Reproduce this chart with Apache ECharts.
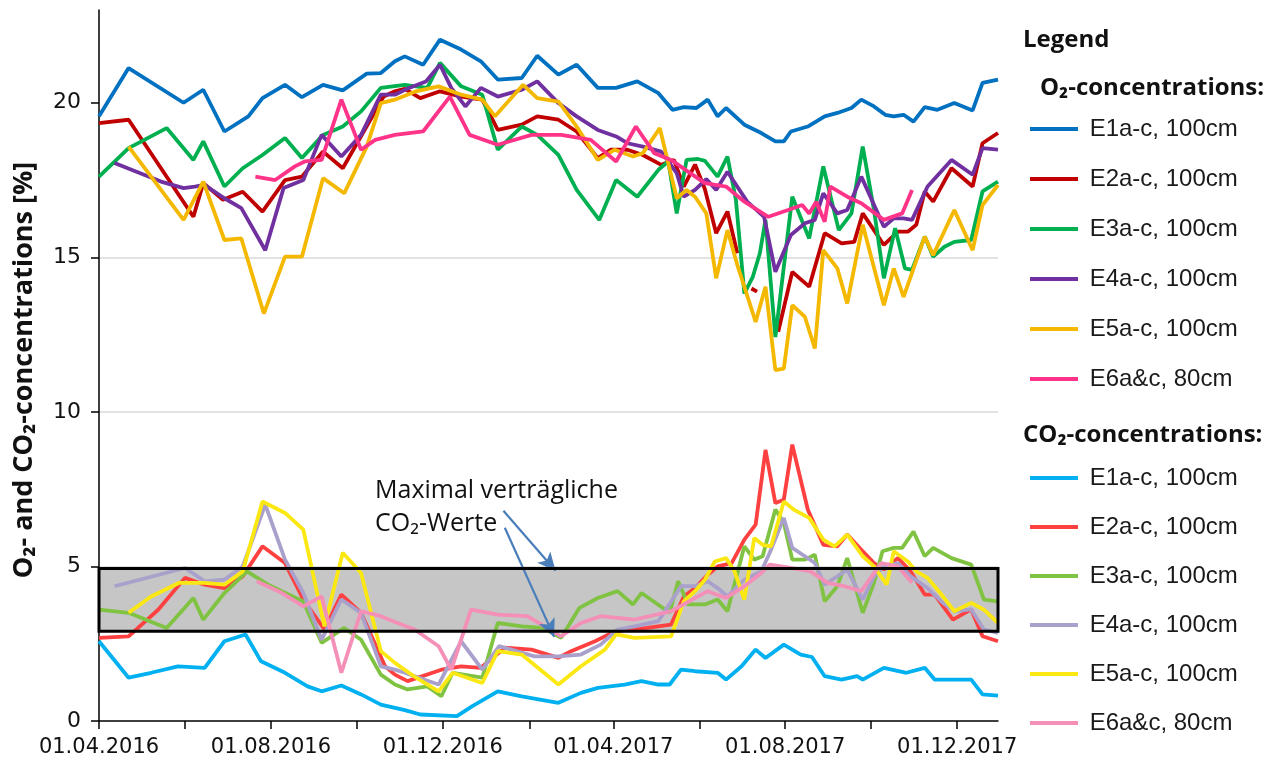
<!DOCTYPE html>
<html>
<head>
<meta charset="utf-8">
<script src="https://cdn.jsdelivr.net/npm/echarts@6/dist/echarts.min.js"></script>
<style>
  html, body { margin: 0; padding: 0; background: #fff; }
  #main { width: 1274px; height: 771px; }
</style>
</head>
<body>
<div id="main"></div>
<script>
    // x = days since 01.04.2016
    const tickDays = [0, 61, 122, 183, 244, 306, 365, 426, 487, 548, 609];
    const labelDays = [0, 122, 244, 365, 487, 609];
    const tickLabels = ['01.04.2016', '01.08.2016', '01.12.2016', '01.04.2017', '01.08.2017', '01.12.2017'];
    const yTicks = [0, 5, 10, 15, 20];

    const probeNames = ['E1a-c, 100cm', 'E2a-c, 100cm', 'E3a-c, 100cm', 'E4a-c, 100cm', 'E5a-c, 100cm', 'E6a&c, 80cm'];

    // tolerable CO2 band [%]
    const co2Band = [2.9, 4.93];

    // O2 concentrations [%]
    const o2E1 = [[0,19.56],[21,21.12],[60,20.0],[74,20.42],[89,19.07],[106,19.56],[116,20.15],[132,20.58],[144,20.18],[159,20.58],[173,20.4],[190,20.94],[200,20.96],[210,21.34],[217,21.5],[230,21.23],[242,22.04],[257,21.72],[271,21.34],[283,20.75],[300,20.8],[311,21.52],[326,20.91],[339,21.23],[354,20.48],[367,20.48],[382,20.69],[397,20.31],[407,19.77],[415,19.86],[424,19.83],[432,20.1],[439,19.56],[445,19.83],[458,19.29],[470,19.02],[480,18.75],[486,18.75],[491,19.07],[503,19.23],[515,19.56],[524,19.67],[534,19.83],[541,20.1],[550,19.88],[558,19.61],[564,19.56],[571,19.61],[578,19.39],[586,19.86],[595,19.77],[607,19.99],[620,19.75],[627,20.64],[638,20.75]];
    const o2E2 = [[0,19.34],[21,19.45],[67,16.31],[74,17.4],[88,16.86],[102,17.12],[116,16.48],[132,17.5],[144,17.61],[159,18.42],[173,17.88],[202,20.2],[210,20.37],[217,20.45],[228,20.15],[242,20.37],[257,20.2],[272,20.1],[283,19.12],[300,19.29],[311,19.56],[326,19.45],[339,19.07],[354,18.21],[363,18.48],[375,18.48],[386,18.31],[399,17.99],[408,18.15],[415,17.29],[423,18.0],[430,17.2],[438,15.78],[446,16.48],[453,15.13],[458,null],[463,13.99],[467,13.89],[475,null],[482,12.59],[492,14.53],[504,14.05],[515,15.78],[527,15.45],[536,15.5],[542,16.42],[557,15.4],[567,15.83],[574,15.83],[580,16.05],[586,17.13],[592,16.8],[605,17.88],[620,17.29],[627,18.69],[638,19.02]];
    const o2E3 = [[0,17.61],[21,18.53],[48,19.18],[67,18.15],[74,18.75],[89,17.29],[102,17.88],[116,18.31],[132,18.86],[144,18.21],[159,18.96],[173,19.23],[186,19.72],[200,20.48],[217,20.58],[233,20.48],[242,21.29],[257,20.53],[272,20.26],[283,18.48],[300,19.23],[311,18.96],[326,18.31],[339,17.18],[355,16.21],[367,17.5],[382,16.96],[397,17.83],[404,18.1],[410,16.42],[417,18.15],[425,18.18],[430,18.12],[439,17.61],[446,18.26],[452,16.86],[458,13.83],[464,14.37],[469,15.13],[473,16.21],[480,12.42],[492,16.96],[504,15.61],[514,17.94],[525,15.88],[534,16.42],[542,18.58],[550,16.53],[557,14.32],[565,15.94],[572,14.64],[577,14.59],[586,15.67],[592,15.02],[600,15.34],[607,15.5],[619,15.56],[627,17.13],[638,17.45]];
    const o2E4 = [[11,18.05],[44,17.45],[60,17.24],[68,17.29],[75,17.34],[89,16.91],[101,16.59],[118,15.23],[131,17.24],[145,17.5],[158,18.96],[172,18.26],[186,18.96],[200,20.26],[210,20.26],[220,20.48],[232,20.69],[242,21.23],[250,20.48],[260,19.88],[271,20.48],[283,20.2],[300,20.42],[311,20.69],[326,19.99],[339,19.56],[354,19.12],[367,18.91],[375,18.69],[386,18.58],[399,18.42],[410,17.72],[415,16.96],[423,17.18],[431,17.53],[438,17.18],[446,17.77],[460,16.8],[472,16.31],[480,14.53],[491,15.72],[501,16.1],[508,16.21],[514,17.07],[524,16.42],[531,16.53],[541,17.61],[557,15.99],[564,16.26],[571,16.26],[577,16.21],[588,17.29],[605,18.15],[620,17.67],[627,18.53],[638,18.48]];
    const o2E5 = [[21,18.58],[60,16.21],[74,17.45],[89,15.56],[101,15.61],[117,13.18],[132,15.02],[144,15.02],[159,17.56],[174,17.07],[190,18.58],[200,19.99],[210,20.1],[225,20.37],[241,20.53],[257,20.26],[272,20.1],[281,19.56],[301,20.58],[311,20.15],[326,20.04],[339,19.23],[354,18.15],[366,18.48],[379,18.26],[386,18.37],[398,19.18],[410,16.91],[417,17.18],[423,16.96],[431,16.42],[438,14.32],[446,15.88],[453,14.75],[466,12.91],[473,14.05],[480,11.35],[486,11.4],[492,13.45],[501,13.07],[508,12.05],[514,15.23],[524,14.64],[531,13.51],[542,16.05],[557,13.45],[564,14.64],[571,13.72],[586,15.67],[592,15.07],[607,16.53],[620,15.23],[627,16.69],[638,17.34]];
    const o2E6 = [[111,17.61],[125,17.5],[139,17.94],[146,18.1],[158,18.15],[172,20.1],[186,18.48],[196,18.8],[210,18.96],[230,19.07],[249,20.2],[263,18.96],[283,18.64],[307,18.96],[328,18.96],[349,18.8],[367,18.1],[381,19.23],[394,18.37],[406,18.15],[418,17.77],[430,17.4],[445,17.29],[458,16.8],[475,16.31],[489,16.53],[499,16.69],[504,16.42],[509,16.8],[515,16.15],[519,17.29],[531,16.96],[541,16.75],[557,16.21],[570,16.42],[577,17.18]];

    // CO2 concentrations [%]
    const co2E1 = [[0,2.58],[21,1.4],[37,1.56],[56,1.77],[75,1.72],[89,2.58],[104,2.8],[115,1.93],[132,1.56],[148,1.12],[158,0.96],[172,1.15],[186,0.86],[200,0.53],[217,0.35],[228,0.21],[254,0.16],[265,0.48],[283,0.96],[300,0.8],[326,0.59],[342,0.91],[354,1.07],[373,1.18],[385,1.29],[397,1.18],[405,1.18],[413,1.66],[423,1.61],[439,1.56],[445,1.34],[456,1.77],[466,2.31],[473,2.04],[486,2.47],[498,2.15],[506,2.07],[515,1.45],[527,1.34],[538,1.45],[542,1.34],[557,1.72],[573,1.56],[586,1.72],[593,1.34],[619,1.34],[627,0.86],[638,0.82]];
    const co2E2 = [[0,2.69],[21,2.74],[42,3.6],[61,4.63],[75,4.41],[89,4.3],[102,4.68],[116,5.65],[132,5.11],[145,3.93],[160,2.96],[172,4.09],[186,3.5],[203,1.77],[210,1.5],[219,1.29],[243,1.66],[257,1.77],[271,1.72],[288,2.37],[307,2.31],[326,2.04],[335,2.26],[352,2.58],[366,2.9],[389,3.01],[406,3.12],[415,4.03],[423,4.3],[432,4.73],[439,5.0],[449,5.11],[458,5.87],[466,6.35],[473,8.77],[480,7.05],[486,7.16],[492,8.94],[503,6.84],[514,5.7],[524,5.65],[531,6.03],[541,5.54],[550,5.11],[557,4.9],[567,5.27],[576,4.84],[586,4.09],[593,4.09],[606,3.28],[619,3.61],[627,2.74],[638,2.58]];
    const co2E3 = [[0,3.6],[21,3.5],[48,3.01],[67,3.98],[74,3.28],[89,4.14],[105,4.84],[120,4.41],[145,3.87],[158,2.53],[174,3.01],[186,2.63],[200,1.5],[210,1.18],[219,1.02],[233,1.12],[243,0.8],[251,1.56],[272,1.4],[283,3.17],[300,3.06],[315,3.01],[328,2.69],[341,3.66],[354,3.98],[368,4.2],[379,3.77],[385,4.14],[405,3.5],[411,4.52],[418,3.77],[430,3.77],[439,3.93],[446,3.55],[458,5.65],[465,5.22],[471,5.33],[480,6.84],[486,6.41],[492,5.22],[501,5.22],[508,5.38],[515,3.87],[524,4.36],[531,5.27],[542,3.5],[550,4.47],[556,5.49],[564,5.6],[570,5.6],[578,6.13],[586,5.33],[592,5.6],[605,5.27],[619,5.06],[628,3.93],[638,3.87]];
    const co2E4 = [[11,4.36],[61,4.95],[75,4.52],[89,4.57],[102,5.0],[118,7.0],[132,5.22],[145,4.14],[158,2.63],[172,3.93],[186,3.5],[200,1.77],[210,1.66],[217,1.56],[224,1.45],[241,1.18],[257,2.58],[272,1.66],[284,2.42],[309,2.09],[326,2.09],[342,2.15],[356,2.47],[368,2.96],[380,3.06],[397,3.23],[413,4.36],[423,4.36],[432,4.52],[439,4.3],[446,4.03],[458,4.57],[470,4.84],[476,5.44],[486,6.57],[492,5.6],[501,5.33],[508,5.11],[515,4.41],[524,4.68],[531,4.9],[542,3.93],[550,4.68],[557,5.0],[567,5.11],[576,4.68],[588,4.3],[599,3.82],[607,3.55],[619,3.61],[628,2.96],[638,2.85]];
    const co2E5 = [[21,3.5],[37,4.03],[57,4.47],[75,4.47],[89,4.41],[102,4.84],[116,7.1],[132,6.73],[145,6.19],[160,3.06],[173,5.44],[186,4.79],[200,2.26],[210,1.88],[225,1.4],[241,0.96],[251,1.56],[272,1.23],[283,2.26],[300,2.15],[326,1.18],[342,1.77],[359,2.31],[367,2.8],[380,2.69],[406,2.74],[415,3.87],[423,4.2],[430,4.57],[437,5.16],[445,5.27],[451,4.84],[458,3.93],[465,5.92],[471,5.7],[477,5.65],[486,7.1],[493,6.84],[504,6.57],[514,5.87],[522,5.65],[531,6.03],[542,5.33],[550,5.0],[559,4.41],[564,5.49],[574,5.16],[580,4.84],[588,4.63],[597,4.14],[607,3.55],[619,3.82],[628,3.6],[638,3.17]];
    const co2E6 = [[112,4.52],[130,4.14],[145,3.71],[158,4.03],[172,1.56],[186,3.55],[200,3.39],[210,3.2],[224,2.96],[241,2.42],[250,1.66],[264,3.6],[283,3.44],[304,3.39],[328,2.74],[342,3.17],[356,3.39],[380,3.28],[406,3.55],[420,3.9],[432,4.2],[445,3.98],[458,4.36],[470,4.79],[476,5.06],[491,4.95],[505,4.84],[517,4.47],[529,4.36],[541,4.2],[555,5.11],[567,5.0],[577,4.47]];

    const o2Colors = ['#0070c0', '#c00000', '#00b050', '#7030a0', '#f5b800', '#ff3388'];
    const co2Colors = ['#00b0f0', '#ff4040', '#80c342', '#aaa0cc', '#fbe812', '#f48fb8'];

    const o2Data = [o2E1, o2E2, o2E3, o2E4, o2E5, o2E6];
    const co2Data = [co2E1, co2E2, co2E3, co2E4, co2E5, co2E6];

    const xMax = 638;
    const txtFont = '"DejaVu Sans", Verdana, sans-serif';
    const boldFont = '"Open Sans", "Noto Sans", "DejaVu Sans", sans-serif';

    const o2Names = probeNames.map(n => 'O2|' + n);
    const co2Names = probeNames.map(n => 'CO2|' + n);

    const makeLine = (name, color, data) => ({
        name: name,
        type: 'line',
        data: data,
        color: color,
        symbol: 'none',
        showSymbol: false,
        lineStyle: { width: 3.8, color: color },
        animation: false
    });

    let series = [];
    // grey band (fill below the lines)
    series.push({
        type: 'line',
        data: [],
        silent: true,
        z: 1,
        markArea: {
            silent: true,
            itemStyle: { color: '#c6c6c6', borderWidth: 0 },
            data: [[{ xAxis: 0, yAxis: co2Band[0] }, { xAxis: xMax, yAxis: co2Band[1] }]]
        }
    });
    for (let i = 0; i < 6; i++) series.push(makeLine(o2Names[i], o2Colors[i], o2Data[i]));
    for (let i = 0; i < 6; i++) series.push(makeLine(co2Names[i], co2Colors[i], co2Data[i]));
    // black frame of the band + the two arrows
    series.push({
        type: 'line',
        data: [],
        silent: true,
        z: 10,
        markArea: {
            silent: true,
            z: 10,
            itemStyle: { color: 'rgba(0,0,0,0)', borderColor: '#000', borderWidth: 3 },
            data: [[{ xAxis: 0, yAxis: co2Band[0] }, { xAxis: xMax, yAxis: co2Band[1] }]]
        },
        markLine: {
            silent: true,
            symbol: ['none', 'arrow'],
            symbolSize: [13, 18],
            label: { show: false },
            lineStyle: { color: '#4a7ebb', width: 2.2, type: 'solid' },
            data: [
                [{ coord: [287, 6.8] }, { coord: [324, 4.86] }],
                [{ coord: [288, 6.25] }, { coord: [323, 2.72] }]
            ]
        }
    });

    const legendBase = {
        orient: 'vertical',
        left: 1025,
        itemWidth: 48,
        itemHeight: 4,
        icon: 'rect',
        selectedMode: false,
        formatter: function (name) { return ' ' + name.split('|')[1]; },
        textStyle: { fontSize: 24, fontFamily: '"Liberation Sans", Arial, sans-serif', color: '#1a1a1a' }
    };

    const option = {
        backgroundColor: '#ffffff',
        animation: false,
        grid: { left: 99, right: 276, top: 10, bottom: 50, outerBoundsMode: 'none' },
        legend: [
            Object.assign({}, legendBase, { top: 112, itemGap: 26, data: o2Names }),
            Object.assign({}, legendBase, { top: 461, itemGap: 25, data: co2Names })
        ],
        xAxis: {
            type: 'value',
            min: 0,
            max: xMax,
            axisLine: { show: true, lineStyle: { color: '#000', width: 1.5 } },
            axisTick: { show: true, length: 8, customValues: tickDays, lineStyle: { color: '#000', width: 1.5 } },
            axisLabel: {
                customValues: labelDays,
                formatter: function (v) {
                    const k = labelDays.indexOf(v);
                    return k < 0 ? '' : tickLabels[k];
                },
                fontSize: 21,
                fontFamily: txtFont,
                color: '#111',
                margin: 16
            },
            splitLine: { show: false }
        },
        yAxis: {
            type: 'value',
            min: 0,
            max: 23,
            interval: 5,
            axisLine: { show: true, lineStyle: { color: '#000', width: 1.5 } },
            axisTick: { show: true, length: 8, customValues: yTicks, lineStyle: { color: '#000', width: 1.5 } },
            axisLabel: { customValues: yTicks, fontSize: 22, fontFamily: txtFont, color: '#111', margin: 18 },
            splitLine: { show: true, showMinLine: false, showMaxLine: false, lineStyle: { color: '#d9d9d9', width: 1.5 } }
        },
        graphic: [
            {
                type: 'text', x: 24, y: 370, rotation: Math.PI / 2,
                style: { text: 'O₂- and CO₂-concentrations [%]', font: 'bold 27px ' + boldFont, fill: '#111', textAlign: 'center', textVerticalAlign: 'middle' }
            },
            {
                type: 'text', x: 375, y: 474,
                style: { text: 'Maximal verträgliche\nCO₂-Werte', font: '25px ' + boldFont, lineHeight: 33, fill: '#111' }
            },
            {
                type: 'text', x: 1023, y: 40,
                style: { text: 'Legend', font: 'bold 24px ' + boldFont, fill: '#111', textVerticalAlign: 'middle' }
            },
            {
                type: 'text', x: 1040, y: 88,
                style: { text: 'O₂-concentrations:', font: 'bold 24px ' + boldFont, fill: '#111', textVerticalAlign: 'middle' }
            },
            {
                type: 'text', x: 1023, y: 435,
                style: { text: 'CO₂-concentrations:', font: 'bold 24px ' + boldFont, fill: '#111', textVerticalAlign: 'middle' }
            }
        ],
        series: series
    };

    const myChart = echarts.init(document.getElementById('main'));
    myChart.setOption(option);
</script>
</body>
</html>
